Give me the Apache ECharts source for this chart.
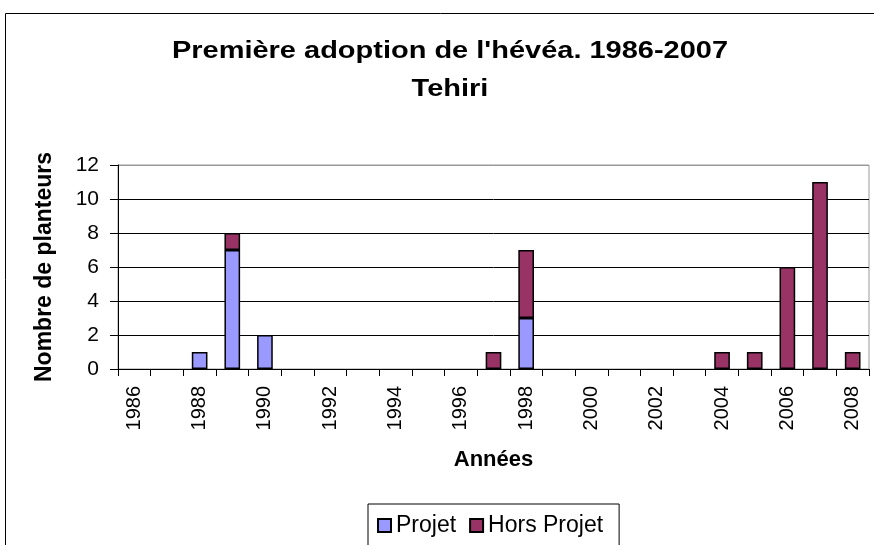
<!DOCTYPE html>
<html>
<head>
<meta charset="utf-8">
<script src="https://cdn.jsdelivr.net/npm/echarts@6/dist/echarts.min.js"></script>
<style>
html,body{margin:0;padding:0;background:#fff;}
#chart{width:874px;height:545px;}
</style>
</head>
<body>
<div id="chart"></div>
<script>
var years = ['1986','1987','1988','1989','1990','1991','1992','1993','1994','1995','1996','1997','1998','1999','2000','2001','2002','2003','2004','2005','2006','2007','2008'];
var projet =      [0,0,1,7,2,0,0,0,0,0,0,0,3,0,0,0,0,0,0,0,0,0,0];
var horsProjet =  [0,0,0,1,0,0,0,0,0,0,0,1,4,0,0,0,0,0,1,1,6,11,1];
var yTicks = [0,2,4,6,8,10,12];
var titleLine1 = "Première adoption de l'hévéa. 1986-2007";
var titleLine2 = "Tehiri";

function toBars(arr){ return arr.map(function(v){ return v === 0 ? '-' : v; }); }

var FONT = 'Liberation Sans, Arial, sans-serif';
var chart = echarts.init(document.getElementById('chart'), null, {renderer:'canvas'});
chart.setOption({
  backgroundColor: '#fff',
  animation: false,
  graphic: [
    {type:'rect', shape:{x:5.5, y:13.5, width:900, height:600}, style:{fill:'none', stroke:'#000', lineWidth:1}, silent:true, z:-1},
    {type:'text', x:450, y:52, scaleX:1.26, style:{text:titleLine1, font:'bold 23px ' + FONT, fill:'#000', textAlign:'center', textVerticalAlign:'middle'}},
    {type:'text', x:450, y:90, scaleX:1.26, style:{text:titleLine2, font:'bold 23px ' + FONT, fill:'#000', textAlign:'center', textVerticalAlign:'middle'}}
  ],
  grid: {left:118, right:5, top:165, bottom:176, show:true, borderColor:'#999', borderWidth:1, containLabel:false},
  legend: {
    left: 368, top: 504,
    padding: [10, 16, 40, 9],
    borderColor: '#000', borderWidth: 1, backgroundColor:'#fff',
    itemWidth: 13, itemHeight: 13, itemGap: 13,
    icon: 'rect',
    textStyle: {fontFamily: FONT, fontSize: 23, color:'#000'},
    data: ['Projet', 'Hors Projet']
  },
  xAxis: {
    type: 'category',
    data: years,
    name: 'Années',
    nameLocation: 'middle',
    nameGap: 80,
    nameTextStyle: {fontFamily: FONT, fontSize: 22, fontWeight:'bold', color:'#000'},
    axisLine: {show:true, lineStyle:{color:'#000', width:1}},
    axisTick: {show:true, length:7, interval:0, lineStyle:{color:'#000'}},
    axisLabel: {interval:1, rotate:90, margin:17, fontFamily: FONT, fontSize:20, color:'#000'},
    splitLine: {show:false}
  },
  yAxis: {
    type: 'value',
    min: 0, max: 12, interval: 2,
    name: 'Nombre de planteurs',
    nameLocation: 'middle',
    nameRotate: 90,
    nameGap: 62,
    nameTextStyle: {fontFamily: FONT, fontSize: 23, fontWeight:'bold', color:'#000'},
    axisLine: {show:true, lineStyle:{color:'#000', width:1}},
    axisTick: {show:true, length:8, lineStyle:{color:'#000'}},
    axisLabel: {margin:19, fontFamily: FONT, fontSize:21, color:'#000',
      formatter: function(v){ return yTicks.indexOf(v) >= 0 ? String(v) : ''; }},
    splitLine: {show:true, lineStyle:{color:['#000','#000','#000','#000','#000','#000','#999'], width:1}}
  },
  series: [
    {name:'Projet', type:'bar', stack:'total', barWidth:'48%', data: toBars(projet),
     itemStyle:{color:'#9999FF', borderColor:'#000', borderWidth:1.5}},
    {name:'Hors Projet', type:'bar', stack:'total', barWidth:'48%', data: toBars(horsProjet),
     itemStyle:{color:'#993366', borderColor:'#000', borderWidth:1.5}}
  ]
});
</script>
</body>
</html>
